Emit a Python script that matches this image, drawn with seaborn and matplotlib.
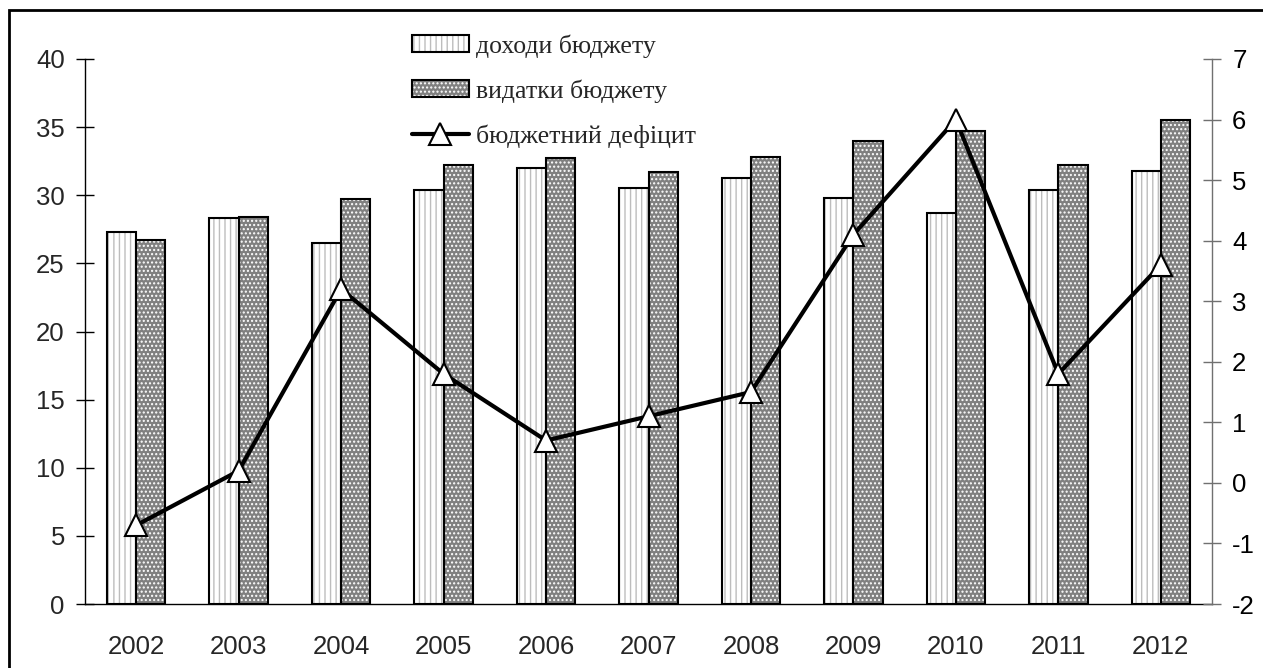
import numpy as np
import pandas as pd
import matplotlib
matplotlib.use("Agg")
import matplotlib.pyplot as plt
import seaborn as sns
from matplotlib.patches import Patch, Rectangle
from matplotlib.lines import Line2D
from matplotlib.legend_handler import HandlerTuple
from matplotlib.ticker import FixedLocator

# --- Data ---
years = ['2002', '2003', '2004', '2005', '2006', '2007', '2008', '2009', '2010', '2011', '2012']
income = [27.3, 28.3, 26.5, 30.4, 32.0, 30.5, 31.3, 29.8, 28.7, 30.4, 31.8]
spending = [26.7, 28.4, 29.7, 32.2, 32.7, 31.7, 32.8, 34.0, 34.7, 32.2, 35.5]
deficit = [-0.7, 0.2, 3.2, 1.8, 0.7, 1.1, 1.5, 4.1, 6.0, 1.8, 3.6]
series_names = ['доходи бюджету', 'видатки бюджету']
line_name = 'бюджетний дефіцит'

df = pd.DataFrame({
    'year': years * 2,
    'value': income + spending,
    'series': [series_names[0]] * len(years) + [series_names[1]] * len(years),
})

# --- Style ---
sns.set_style("white")
plt.rcParams['font.family'] = ['Liberation Sans', 'DejaVu Sans']
plt.rcParams['hatch.linewidth'] = 1.0
plt.rcParams['axes.unicode_minus'] = False

TICK_FS = 18.5

fig = plt.figure(figsize=(12.63, 6.68), dpi=100)
ax = fig.add_axes([85 / 1263, 64 / 668, 1127 / 1263, 545 / 668])

sns.barplot(data=df, x='year', y='value', hue='series', hue_order=series_names,
            palette=['white', '#808080'], width=0.57, ax=ax, legend=False,
            saturation=1)

# hatches: grey stripes on white, white dots on grey, then black outlines on top
n = len(years)
styles = [('|||', '#bdbdbd'), ('....', 'white')]
for i, p in enumerate(list(ax.patches)):
    hatch, hcol = styles[i // n]
    p.set_hatch(hatch)
    p.set_edgecolor(hcol)
    p.set_linewidth(0)
    ax.add_patch(Rectangle((p.get_x(), p.get_y()), p.get_width(), p.get_height(),
                           fill=False, ec='black', lw=1.5, zorder=p.get_zorder() + 0.1))

ax.set_ylim(0, 40)
ax.set_yticks(np.arange(0, 41, 5))
ax.set_xlim(-0.5, n - 0.5)
ax.set_xlabel('')
ax.set_ylabel('')
ax.xaxis.set_minor_locator(FixedLocator(np.arange(-0.5, n, 1.0)))
ax.tick_params(axis='x', which='major', length=0, pad=22, labelsize=TICK_FS)
ax.tick_params(axis='x', which='minor', direction='inout', length=14, width=1, color='black')
ax.tick_params(axis='y', direction='inout', length=13, width=1, color='black',
               labelsize=TICK_FS, left=True, pad=8)
for s in ['top', 'right']:
    ax.spines[s].set_visible(False)
for s in ['left', 'bottom']:
    ax.spines[s].set_color('black')
    ax.spines[s].set_linewidth(1)

# --- Deficit line on the secondary axis ---
ax2 = ax.twinx()
sns.pointplot(x=years, y=deficit, ax=ax2, color='black', marker='^',
              markersize=15.5, markerfacecolor='white', markeredgecolor='black',
              markeredgewidth=1.5, linewidth=3)
ax2.set_ylim(-2, 7)
ax2.set_yticks(np.arange(-2, 8, 1))
ax2.set_xlim(-0.5, n - 0.5)
ax2.tick_params(axis='y', direction='inout', length=13, width=1, color='#707070',
                labelcolor='black', labelsize=TICK_FS, right=True, pad=8)
for s in ['top', 'left', 'bottom']:
    ax2.spines[s].set_visible(False)
ax2.spines['right'].set_color('#707070')
ax2.spines['right'].set_linewidth(1)
ax2.set_ylabel('')
ax2.grid(False)
ax.grid(False)

# --- Legend ---
h1 = (Patch(facecolor='white', edgecolor='#bdbdbd', hatch='|||', lw=0),
      Patch(facecolor='none', edgecolor='black', lw=1.5))
h2 = (Patch(facecolor='#808080', edgecolor='white', hatch='....', lw=0),
      Patch(facecolor='none', edgecolor='black', lw=1.5))
h3 = Line2D([], [], color='black', lw=3, marker='^', markersize=15.5,
            markerfacecolor='white', markeredgecolor='black', markeredgewidth=1.5)
fig.legend([h1, h2, h3], series_names + [line_name],
           handler_map={tuple: HandlerTuple(ndivide=1, pad=0)},
           loc='upper left', bbox_to_anchor=(412 / 1263, 1 - 34 / 668),
           frameon=False, prop={'family': 'Liberation Serif', 'size': TICK_FS},
           handlelength=2.2, handleheight=0.66, handletextpad=0.3,
           labelspacing=0.85, borderaxespad=0, borderpad=0)

# figure frame (only top and left edges fall inside the picture)
fig.add_artist(Rectangle((9 / 1263, -0.05), 1.2, 1 - 10 / 668 + 0.05,
                         transform=fig.transFigure, fill=False, ec='black', lw=2))

fig.savefig('out.png', dpi=100)
